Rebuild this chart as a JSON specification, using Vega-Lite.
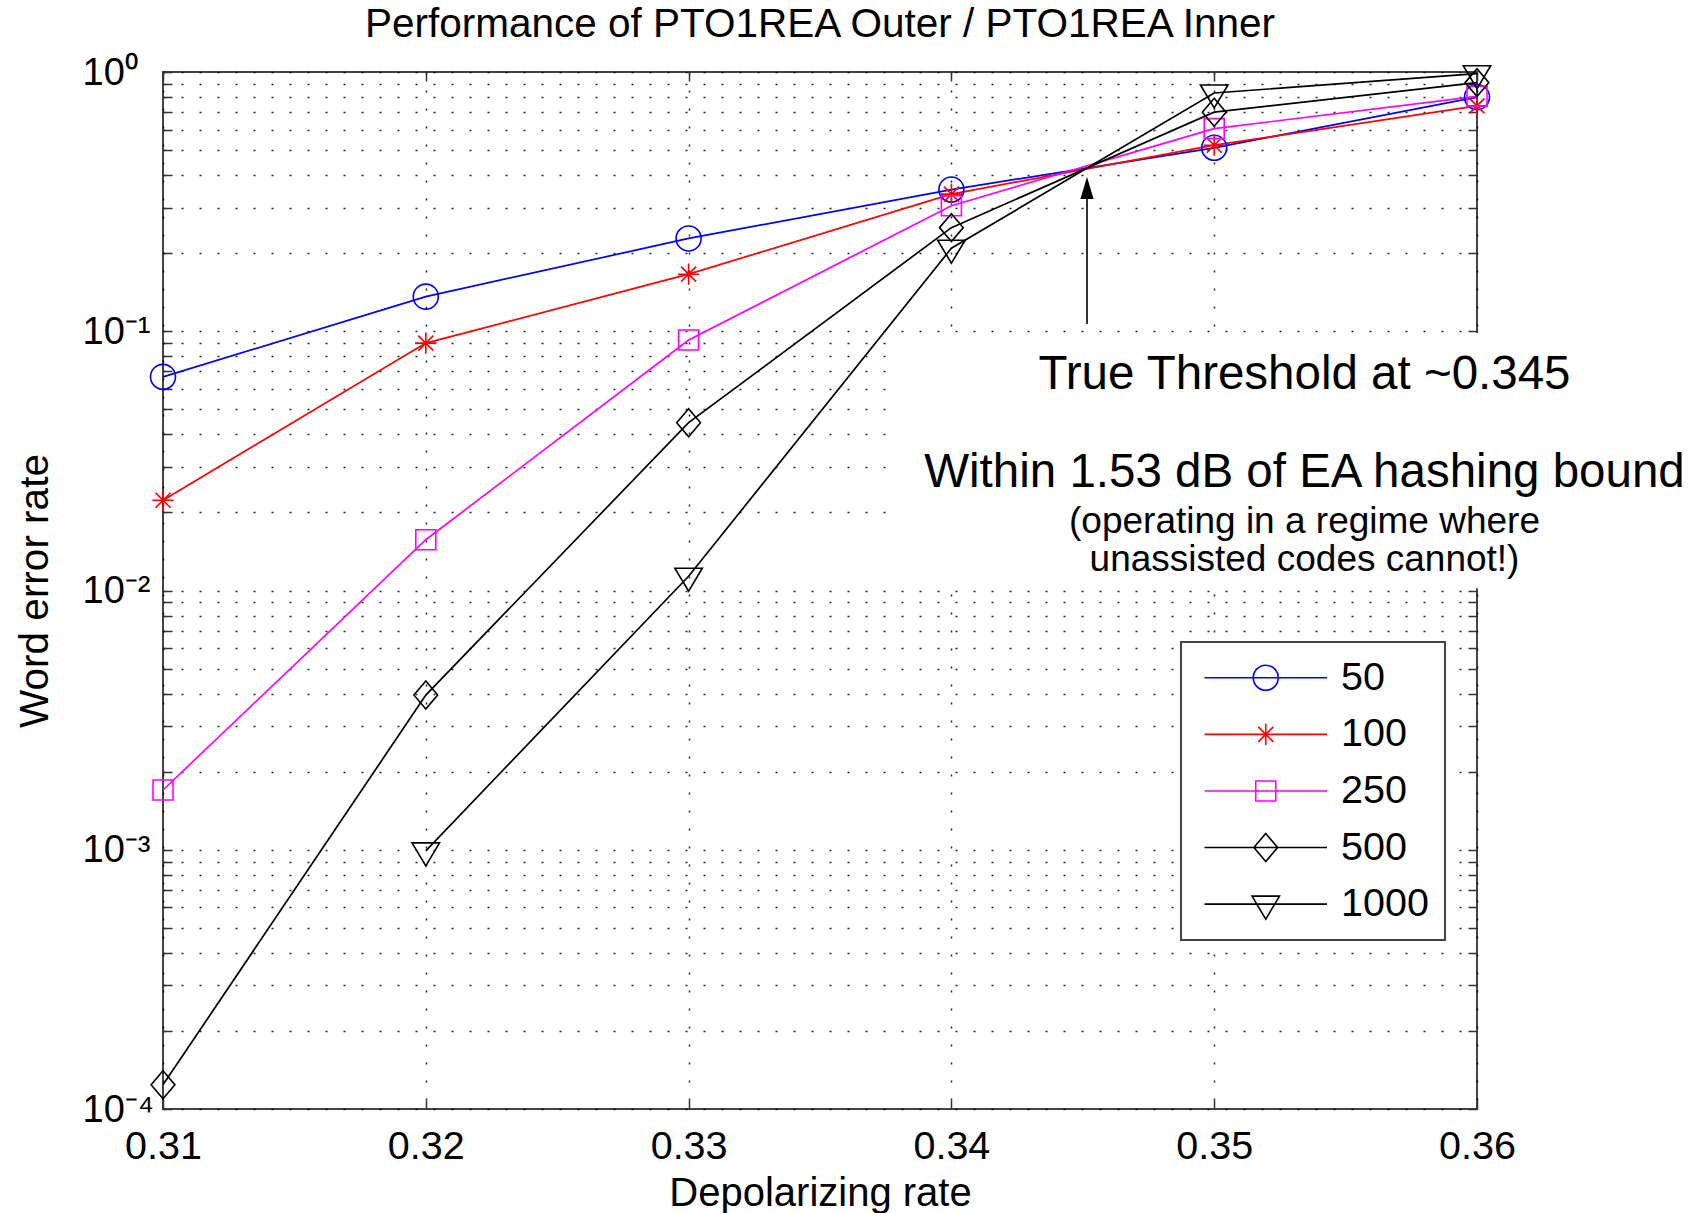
{
  "$schema": "https://vega.github.io/schema/vega-lite/v6.json",
  "width": 1314,
  "height": 1037,
  "autosize": "none",
  "padding": {"left": 163, "top": 72, "right": 229, "bottom": 104},
  "background": "white",
  "config": {
    "font": "Liberation Sans",
    "view": {"stroke": "#444444", "strokeWidth": 2},
    "title": {"fontWeight": "normal", "color": "black"},
    "axis": {"labelColor": "black", "titleColor": "black", "titleFontWeight": "normal", "tickColor": "#333333", "tickWidth": 1.5, "domain": false, "labelOverlap": false, "labelBound": false, "labelFlush": false},
    "point": {"filled": false, "strokeWidth": 1.6, "size": 625, "opacity": 1},
    "legend": {"orient": "none", "legendX": 1018, "legendY": 570, "direction": "vertical",
      "padding": 16, "fillColor": "white", "strokeColor": "#444444",
      "labelFontSize": 39.5, "labelColor": "black", "labelOffset": 55.5, "labelLimit": 400,
      "symbolSize": 625, "symbolOffset": 49, "symbolStrokeWidth": 1.6, "rowPadding": 15.6}
  },
  "title": {"text": "Performance of PTO1REA Outer / PTO1REA Inner", "fontSize": 40.5, "anchor": "middle", "baseline": "alphabetic", "offset": -23, "frame": "group"},
  "datasets": {
    "wer": [
      {"rate": 0.31, "wer": 0.0667, "N": 50},
      {"rate": 0.32, "wer": 0.136, "N": 50},
      {"rate": 0.33, "wer": 0.228, "N": 50},
      {"rate": 0.34, "wer": 0.352, "N": 50},
      {"rate": 0.35, "wer": 0.51, "N": 50},
      {"rate": 0.36, "wer": 0.80, "N": 50},
      {"rate": 0.31, "wer": 0.0223, "N": 100},
      {"rate": 0.32, "wer": 0.090, "N": 100},
      {"rate": 0.33, "wer": 0.166, "N": 100},
      {"rate": 0.34, "wer": 0.338, "N": 100},
      {"rate": 0.35, "wer": 0.522, "N": 100},
      {"rate": 0.36, "wer": 0.74, "N": 100},
      {"rate": 0.31, "wer": 0.0017, "N": 250},
      {"rate": 0.32, "wer": 0.0157, "N": 250},
      {"rate": 0.33, "wer": 0.0925, "N": 250},
      {"rate": 0.34, "wer": 0.305, "N": 250},
      {"rate": 0.35, "wer": 0.605, "N": 250},
      {"rate": 0.36, "wer": 0.805, "N": 250},
      {"rate": 0.31, "wer": 0.000124, "N": 500},
      {"rate": 0.32, "wer": 0.00395, "N": 500},
      {"rate": 0.33, "wer": 0.0444, "N": 500},
      {"rate": 0.34, "wer": 0.251, "N": 500},
      {"rate": 0.35, "wer": 0.70, "N": 500},
      {"rate": 0.36, "wer": 0.91, "N": 500},
      {"rate": 0.32, "wer": 0.00099, "N": 1000},
      {"rate": 0.33, "wer": 0.01135, "N": 1000},
      {"rate": 0.34, "wer": 0.209, "N": 1000},
      {"rate": 0.35, "wer": 0.83, "N": 1000},
      {"rate": 0.36, "wer": 0.985, "N": 1000}
    ]
  },
  "resolve": {"axis": {"x": "independent", "y": "independent"}},
  "layer": [
    {
      "data": {"values": [{}]},
      "mark": {"type": "rect", "color": "white"},
      "encoding": {
        "x": {"datum": 0.33785, "type": "quantitative", "scale": {"domain": [0.31, 0.36], "nice": false, "zero": false}, "axis": null},
        "x2": {"datum": 0.362},
        "y": {"datum": 0.0985, "type": "quantitative", "scale": {"type": "log", "domain": [0.0001, 1], "nice": false}, "axis": null},
        "y2": {"datum": 0.0102}
      }
    },
    {
      "data": {"name": "wer"},
      "mark": {"type": "line", "strokeWidth": 1.7},
      "encoding": {
        "x": {"field": "rate", "type": "quantitative", "scale": {"domain": [0.31, 0.36], "nice": false, "zero": false},
          "axis": {"orient": "bottom", "values": [0.31, 0.32, 0.33, 0.34, 0.35, 0.36], "format": ".2f", "labelFontSize": 39.5, "labelPadding": 27, "tickSize": -9,
            "grid": true, "gridDash": [2, 16], "gridColor": "#000000", "gridWidth": 1.5, "gridOpacity": 0.85,
            "title": "Depolarizing rate", "titleFontSize": 40, "titlePadding": 8}},
        "y": {"field": "wer", "type": "quantitative", "scale": {"type": "log", "domain": [0.0001, 1], "nice": false},
          "axis": {"orient": "left", "values": [0.0001, 0.0002, 0.0003, 0.0004, 0.0005, 0.0006, 0.0007, 0.0008, 0.0009, 0.001, 0.002, 0.003, 0.004, 0.005, 0.006, 0.007, 0.008, 0.009, 0.01, 0.02, 0.03, 0.04, 0.05, 0.06, 0.07, 0.08, 0.09, 0.1, 0.2, 0.3, 0.4, 0.5, 0.6, 0.7, 0.8, 0.9, 1],
            "labelExpr": "datum.value == 1 ? '10⁰' : datum.value == 0.1 ? '10⁻¹' : datum.value == 0.01 ? '10⁻²' : datum.value == 0.001 ? '10⁻³' : datum.value == 0.0001 ? '10⁻⁴' : ''",
            "labelFontSize": 38, "labelAlign": "left", "labelBaseline": "middle", "labelPadding": 90, "labelOffset": 1, "tickSize": -9,
            "grid": true, "gridDash": [2, 16], "gridColor": "#000000", "gridWidth": 1.5, "gridOpacity": 0.85,
            "title": "Word error rate", "titleFontSize": 40.5, "titlePadding": 26}},
        "color": {"field": "N", "type": "nominal",
          "scale": {"domain": [50, 100, 250, 500, 1000], "range": ["#0000ff", "#ff0000", "#ff00ff", "#000000", "#000000"]},
          "legend": {"title": null,
            "encoding": {
              "legend": {"strokeWidth": {"value": 2}},
              "symbols": {
                "shape": {"value": {"expr": "datum.value == 50 ? 'M-4.9,0H4.9M1,0A1,1 0 1,1 -1,0A1,1 0 1,1 1,0Z' : datum.value == 100 ? 'M-4.9,0H4.9M0,-0.85V0.85M-0.6,-0.6L0.6,0.6M-0.6,0.6L0.6,-0.6' : datum.value == 250 ? 'M-4.9,0H4.9M-0.8,-0.8H0.8V0.8H-0.8Z' : datum.value == 500 ? 'M-4.9,0H4.9M-0.95,0L0,-1.12L0.95,0L0,1.12Z' : 'M-4.9,0H4.9M-1.1,-0.64H1.1L0,1.2Z'"}},
                "fill": {"value": "transparent"},
                "strokeWidth": {"value": 1.6}
              }
            }}
        }
      }
    },
    {
      "data": {"name": "wer"},
      "transform": [{"filter": "datum.N == 50"}],
      "mark": {"type": "point", "shape": "M1,0A1,1 0 1,1 -1,0A1,1 0 1,1 1,0Z"},
      "encoding": {
        "x": {"field": "rate", "type": "quantitative", "scale": {"domain": [0.31, 0.36], "nice": false, "zero": false},
          "axis": {"orient": "top", "values": [0.31, 0.32, 0.33, 0.34, 0.35, 0.36], "labels": false, "tickSize": -9, "grid": false, "title": null}},
        "y": {"field": "wer", "type": "quantitative", "scale": {"type": "log", "domain": [0.0001, 1], "nice": false},
          "axis": {"orient": "right", "values": [0.0001, 0.0002, 0.0003, 0.0004, 0.0005, 0.0006, 0.0007, 0.0008, 0.0009, 0.001, 0.002, 0.003, 0.004, 0.005, 0.006, 0.007, 0.008, 0.009, 0.01, 0.02, 0.03, 0.04, 0.05, 0.06, 0.07, 0.08, 0.09, 0.1, 0.2, 0.3, 0.4, 0.5, 0.6, 0.7, 0.8, 0.9, 1], "labels": false, "tickSize": -9, "grid": false, "title": null}},
        "color": {"field": "N", "type": "nominal"}
      }
    },
    {
      "data": {"name": "wer"},
      "transform": [{"filter": "datum.N == 100"}],
      "mark": {"type": "point", "shape": "M0,-0.85V0.85M-0.85,0H0.85M-0.6,-0.6L0.6,0.6M-0.6,0.6L0.6,-0.6"},
      "encoding": {
        "x": {"field": "rate", "type": "quantitative", "axis": null},
        "y": {"field": "wer", "type": "quantitative", "axis": null},
        "color": {"field": "N", "type": "nominal"}
      }
    },
    {
      "data": {"name": "wer"},
      "transform": [{"filter": "datum.N == 250"}],
      "mark": {"type": "point", "shape": "M-0.8,-0.8H0.8V0.8H-0.8Z"},
      "encoding": {
        "x": {"field": "rate", "type": "quantitative", "axis": null},
        "y": {"field": "wer", "type": "quantitative", "axis": null},
        "color": {"field": "N", "type": "nominal"}
      }
    },
    {
      "data": {"name": "wer"},
      "transform": [{"filter": "datum.N == 500"}],
      "mark": {"type": "point", "shape": "M-0.95,0L0,-1.12L0.95,0L0,1.12Z"},
      "encoding": {
        "x": {"field": "rate", "type": "quantitative", "axis": null},
        "y": {"field": "wer", "type": "quantitative", "axis": null},
        "color": {"field": "N", "type": "nominal"}
      }
    },
    {
      "data": {"name": "wer"},
      "transform": [{"filter": "datum.N == 1000"}],
      "mark": {"type": "point", "shape": "M-1.1,-0.64H1.1L0,1.2Z"},
      "encoding": {
        "x": {"field": "rate", "type": "quantitative", "axis": null},
        "y": {"field": "wer", "type": "quantitative", "axis": null},
        "color": {"field": "N", "type": "nominal"}
      }
    },
    {
      "data": {"values": [{}]},
      "mark": {"type": "rule", "strokeWidth": 1.6, "color": "black"},
      "encoding": {
        "x": {"datum": 0.34516, "type": "quantitative", "axis": null},
        "y": {"datum": 0.1066, "type": "quantitative", "axis": null},
        "y2": {"datum": 0.36}
      }
    },
    {
      "data": {"values": [{}]},
      "mark": {"type": "point", "filled": true, "color": "black", "opacity": 1, "size": 484, "strokeWidth": 0, "shape": "M0,-1L0.6,1L-0.6,1Z"},
      "encoding": {
        "x": {"datum": 0.34516, "type": "quantitative", "axis": null},
        "y": {"datum": 0.357, "type": "quantitative", "axis": null}
      }
    },
    {
      "data": {"values": [{}]},
      "mark": {"type": "text", "fontSize": 47.5, "align": "center", "baseline": "alphabetic", "color": "black", "text": "True Threshold at ~0.345"},
      "encoding": {
        "x": {"datum": 0.353436, "type": "quantitative", "axis": null},
        "y": {"datum": 0.05989, "type": "quantitative", "axis": null}
      }
    },
    {
      "data": {"values": [{}]},
      "mark": {"type": "text", "fontSize": 47.5, "align": "center", "baseline": "alphabetic", "color": "black", "text": "Within 1.53 dB of EA hashing bound"},
      "encoding": {
        "x": {"datum": 0.353436, "type": "quantitative", "axis": null},
        "y": {"datum": 0.02506, "type": "quantitative", "axis": null}
      }
    },
    {
      "data": {"values": [{}]},
      "mark": {"type": "text", "fontSize": 37, "align": "center", "baseline": "alphabetic", "color": "black", "text": "(operating in a regime where"},
      "encoding": {
        "x": {"datum": 0.353436, "type": "quantitative", "axis": null},
        "y": {"datum": 0.016665, "type": "quantitative", "axis": null}
      }
    },
    {
      "data": {"values": [{}]},
      "mark": {"type": "text", "fontSize": 37, "align": "center", "baseline": "alphabetic", "color": "black", "text": "unassisted codes cannot!)"},
      "encoding": {
        "x": {"datum": 0.353436, "type": "quantitative", "axis": null},
        "y": {"datum": 0.01189, "type": "quantitative", "axis": null}
      }
    }
  ]
}
